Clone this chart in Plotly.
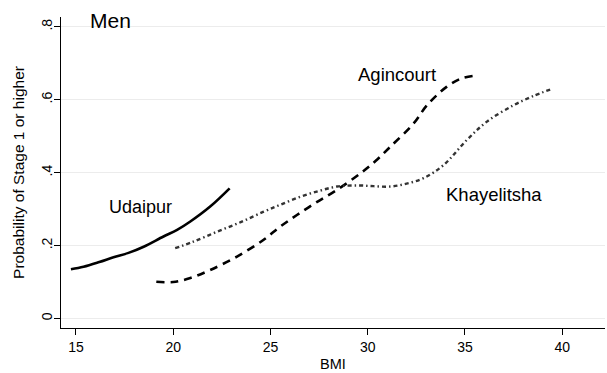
import plotly.graph_objects as go

# Data
udaipur_bmi = [14.74, 15.39, 16.2, 16.93, 17.7, 18.48, 19.5, 20.2, 20.88, 21.9, 22.9]
udaipur_p = [0.135, 0.142, 0.155, 0.168, 0.180, 0.197, 0.225, 0.243, 0.266, 0.307, 0.357]

agincourt_bmi = [19.13, 20.0, 20.88, 21.9, 23.28, 24.65, 25.5, 26.36, 27.4, 28.42, 29.62,
                 30.4, 31.16, 32.36, 33.05, 34.07, 34.8, 35.4]
agincourt_p = [0.101, 0.100, 0.111, 0.133, 0.170, 0.216, 0.252, 0.284, 0.320, 0.353, 0.398,
               0.432, 0.471, 0.535, 0.585, 0.636, 0.658, 0.665]

khayelitsha_bmi = [20.1, 21.0, 22.25, 23.5, 24.65, 25.5, 26.53, 27.5, 28.42, 29.5, 30.3,
                   31.16, 32.0, 32.87, 33.9, 35.1, 36.13, 37.5, 38.5, 39.38]
khayelitsha_p = [0.193, 0.210, 0.238, 0.265, 0.293, 0.312, 0.334, 0.350, 0.362, 0.365, 0.363,
                 0.362, 0.370, 0.385, 0.421, 0.490, 0.540, 0.585, 0.610, 0.628]

x_ticks = [15, 20, 25, 30, 35, 40]
y_ticks = [0, 0.2, 0.4, 0.6, 0.8]
y_tick_labels = ["0", ".2", ".4", ".6", ".8"]

FONT = "Arial, Liberation Sans, sans-serif"

fig = go.Figure()
fig.add_trace(go.Scatter(x=udaipur_bmi, y=udaipur_p, mode="lines",
                         line=dict(color="black", width=2.6, shape="spline"),
                         showlegend=False))
fig.add_trace(go.Scatter(x=agincourt_bmi, y=agincourt_p, mode="lines",
                         line=dict(color="black", width=2.6, shape="spline", dash="8px,6px"),
                         showlegend=False))
fig.add_trace(go.Scatter(x=khayelitsha_bmi, y=khayelitsha_p, mode="lines",
                         line=dict(color="#333333", width=2.4, shape="spline",
                                   dash="4px,3px,1.5px,3px"),
                         showlegend=False))

annots = [
    dict(text="Men", x=15.6, y=0.818, size=21),
    dict(text="Udaipur", x=16.6, y=0.305, size=18),
    dict(text="Agincourt", x=29.4, y=0.668, size=18.5),
    dict(text="Khayelitsha", x=33.9, y=0.340, size=18.5),
]
for a in annots:
    fig.add_annotation(text=a["text"], x=a["x"], y=a["y"], xref="x", yref="y",
                       xanchor="left", yanchor="middle", showarrow=False,
                       font=dict(family=FONT, size=a["size"], color="black"))

fig.update_layout(
    width=607, height=373,
    margin=dict(l=61, r=2, t=17, b=45),
    paper_bgcolor="white", plot_bgcolor="white",
    font=dict(family=FONT, color="black"),
    xaxis=dict(range=[14.23, 42.2], tickvals=x_ticks, ticks="outside", ticklen=6,
               tickcolor="black", showline=True, linecolor="black", linewidth=1,
               showgrid=False, zeroline=False, tickfont=dict(size=14),
               title=dict(text="BMI", font=dict(size=14.5), standoff=5)),
    yaxis=dict(range=[-0.026, 0.827], tickvals=y_ticks, ticktext=y_tick_labels,
               tickangle=-90, ticks="outside", ticklen=6, tickcolor="black",
               showline=True, linecolor="black", linewidth=1,
               showgrid=True, gridcolor="#ececec", gridwidth=1, zeroline=False,
               tickfont=dict(size=14), ticklabelstandoff=-4,
               title=dict(text="Probability of Stage 1 or higher", font=dict(size=15.5),
                          standoff=10)),
)

fig.write_html("out.html")
